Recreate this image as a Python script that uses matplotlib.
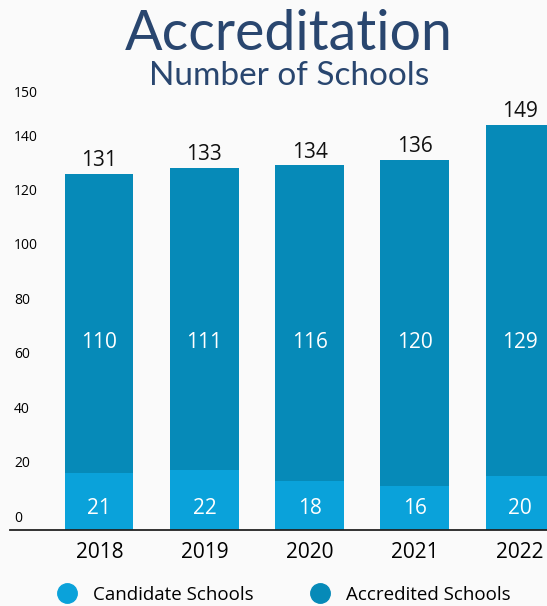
import numpy as np
import matplotlib.pyplot as plt
import matplotlib.transforms as mtransforms
from matplotlib.lines import Line2D

years = ['2018', '2019', '2020', '2021', '2022']
candidate = [21, 22, 18, 16, 20]
accredited = [110, 111, 116, 120, 129]
totals = [131, 133, 134, 136, 149]
# the source chart spaces its tick labels evenly, with 150 one step above 140
ytick_pos = [0, 20, 40, 60, 80, 100, 120, 140, 156]
ytick_labels = ['0', '20', '40', '60', '80', '100', '120', '140', '150']

c_cand = '#0aa2da'
c_accr = '#068ab8'
c_title = '#29466f'
bg = '#fafafa'

fig = plt.figure(figsize=(5.47, 6.06), dpi=100, facecolor=bg)
ax = fig.add_axes([10 / 547, 1 - 530 / 606, 537 / 547, (530 - 81) / 606])
ax.set_facecolor(bg)

x = np.arange(len(years))
ax.bar(x, candidate, width=0.65, color=c_cand, zorder=2)
ax.bar(x, accredited, width=0.65, bottom=candidate, color=c_accr, zorder=2)

for i in range(len(years)):
    ax.text(x[i], 8, str(candidate[i]), ha='center', va='center',
            color='white', fontsize=15, family='Open Sans')
    ax.text(x[i], 69, str(accredited[i]), ha='center', va='center',
            color='white', fontsize=15, family='Open Sans')
    ax.text(x[i], candidate[i] + accredited[i] + 1, str(totals[i]),
            ha='center', va='bottom', color='#111111', fontsize=15,
            family='Open Sans')

ax.set_xlim(-0.85, 4.26)
ax.set_ylim(0, 165)
ax.set_yticks(ytick_pos)
ax.set_yticklabels(ytick_labels, fontsize=10, family='Open Sans')
ax.tick_params(axis='y', length=0, pad=-3)
for lab in ax.get_yticklabels():
    lab.set_horizontalalignment('left')
    lab.set_transform(lab.get_transform() +
                      mtransforms.ScaledTranslation(0, 0.14, fig.dpi_scale_trans))
ax.set_xticks(x)
ax.set_xticklabels(years, fontsize=15, family='Open Sans')
ax.tick_params(axis='x', length=0, pad=9)

for s in ['left', 'right', 'top']:
    ax.spines[s].set_visible(False)
ax.spines['bottom'].set_color('#222222')
ax.spines['bottom'].set_linewidth(1.3)
ax.spines['bottom'].set_zorder(3)

fig.text(0.528, 1 - 34 / 606, 'Accreditation', ha='center', va='center',
         fontsize=40, color=c_title, family='Lato')
fig.text(0.528, 1 - 76 / 606, 'Number of Schools', ha='center', va='center',
         fontsize=24, color=c_title, family='Lato')

handles = [Line2D([], [], marker='o', linestyle='', markersize=14, color=c_cand),
           Line2D([], [], marker='o', linestyle='', markersize=14, color=c_accr)]
fig.legend(handles, ['Candidate Schools', 'Accredited Schools'],
           loc='center', bbox_to_anchor=(0.511, 1 - 595 / 606), ncol=2,
           frameon=False, columnspacing=2.5, handletextpad=0.4,
           prop={'family': 'Open Sans', 'size': 13.5})

fig.savefig('out.png', dpi=100, facecolor=bg)
